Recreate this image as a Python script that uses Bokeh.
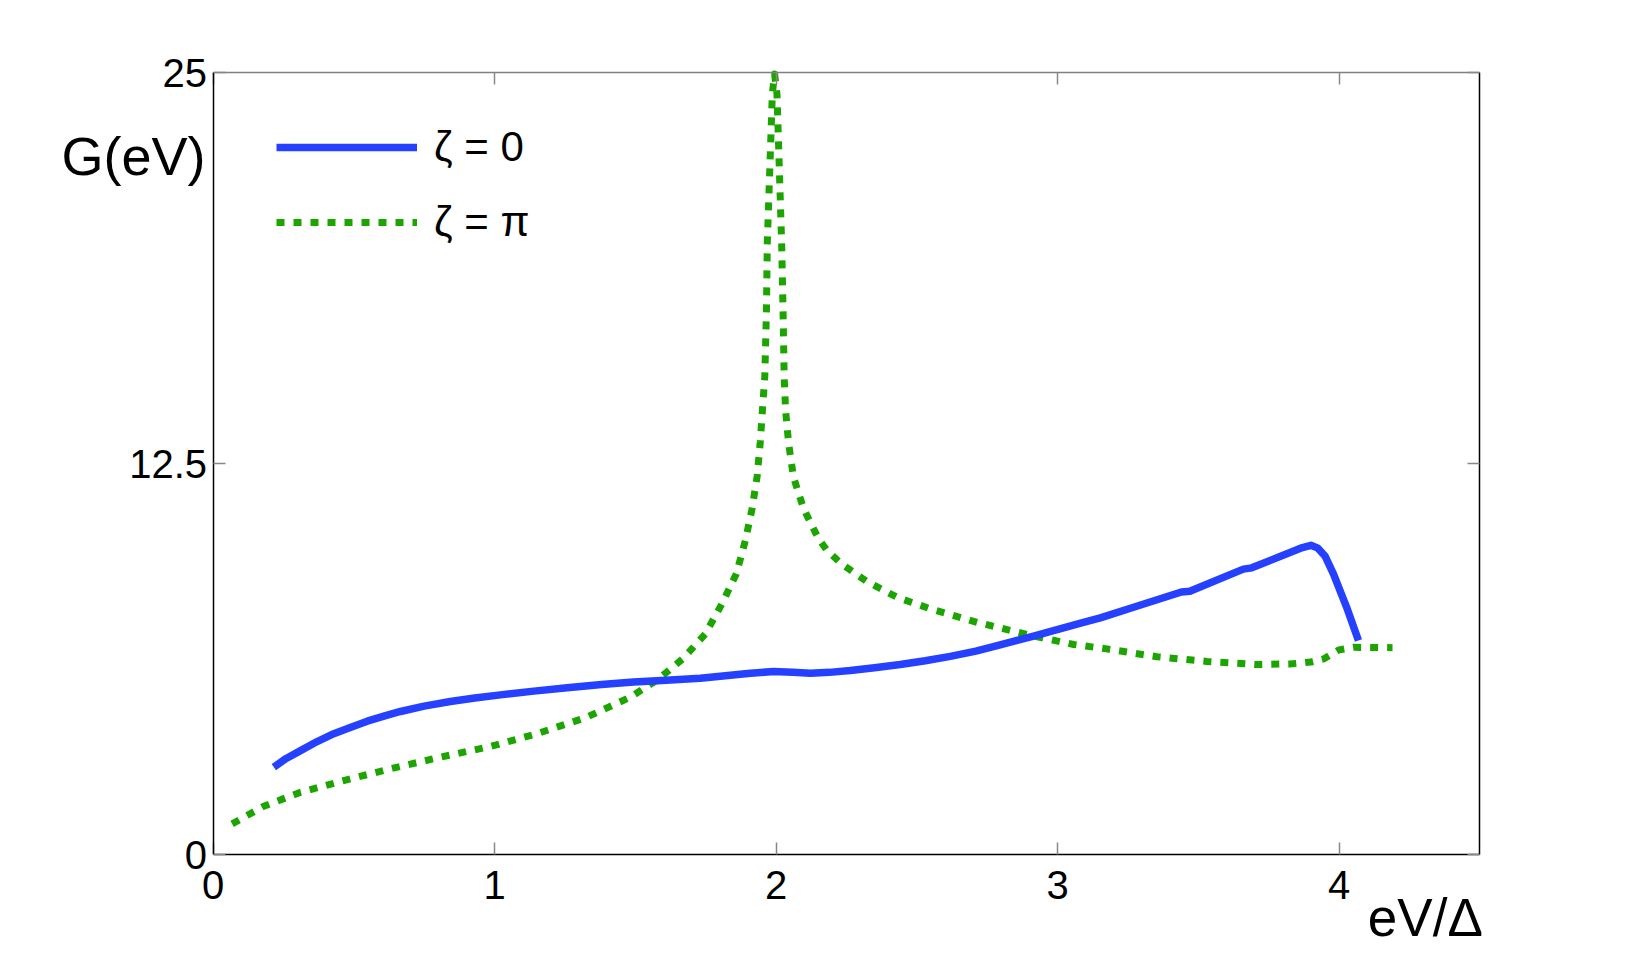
from bokeh.plotting import figure
from bokeh.models import Range1d, LinearAxis, FixedTicker, Legend, LegendItem, Label, ColumnDataSource
from bokeh.embed import file_html
from bokeh.resources import INLINE

# ---- data ----
x_ticks = [0, 1, 2, 3, 4]
y_ticks = [0, 12.5, 25]
y_tick_labels = {0: "0", 12.5: "12.5", 25: "25"}
x_limits = (0, 4.5)
y_limits = (0, 25)

zeta0_x = [0.216, 0.26, 0.311, 0.37, 0.429, 0.49, 0.548, 0.61, 0.666, 0.75, 0.843, 0.93,
           1.021, 1.14, 1.258, 1.38, 1.494, 1.61, 1.731, 1.82,
           1.909, 1.991, 2.06, 2.122, 2.19, 2.264, 2.35, 2.441, 2.53, 2.619, 2.71, 2.796, 2.915,
           3.092, 3.152, 3.27, 3.44, 3.47, 3.66, 3.69, 3.87, 3.90, 3.925, 3.95, 3.98, 4.027, 4.069]
zeta0_y = [2.80, 3.08, 3.33, 3.62, 3.87, 4.08, 4.27, 4.44, 4.58, 4.75, 4.90, 5.01,
           5.11, 5.23, 5.34, 5.44, 5.52, 5.58, 5.64, 5.72,
           5.80, 5.86, 5.83, 5.80, 5.83, 5.89, 5.98, 6.08, 6.20, 6.34, 6.51, 6.71, 6.99,
           7.43, 7.57, 7.91, 8.40, 8.42, 9.13, 9.17, 9.82, 9.89, 9.80, 9.55, 8.98, 7.91, 6.85]

zetapi_x = [0.068, 0.18, 0.311, 0.464, 0.63, 0.808, 0.985, 1.151, 1.323, 1.483,
            1.58, 1.672, 1.749, 1.808, 1.859, 1.891, 1.915, 1.933, 1.944, 1.952,
            1.96, 1.963, 1.966, 1.969, 1.987, 1.995, 2.0035, 2.020, 2.025, 2.027,
            2.029, 2.034, 2.045, 2.062, 2.098, 2.151, 2.181, 2.228, 2.323, 2.43,
            2.548, 2.714, 2.892, 3.057, 3.175, 3.353, 3.53, 3.708, 3.826, 3.90,
            3.945, 3.975, 4.00, 4.051, 4.19]
zetapi_y = [0.99, 1.55, 2.0, 2.37, 2.75, 3.12, 3.46, 3.87, 4.38, 5.04,
            5.60, 6.29, 7.06, 8.02, 8.98, 10.04, 11.06, 12.10, 13.19, 14.25,
            15.26, 16.33, 17.40, 19.55, 24.34, 24.95, 24.30, 19.53, 17.40, 16.33,
            15.26, 14.20, 13.13, 12.07, 11.06, 10.10, 9.73, 9.33, 8.73, 8.23,
            7.86, 7.43, 7.04, 6.72, 6.58, 6.33, 6.18, 6.08, 6.10, 6.16,
            6.26, 6.42, 6.55, 6.63, 6.62]

FONT = "Liberation Sans"
BLUE = "#2540ff"
GREEN = "#1ca500"

# Canvas geometry: the axes box sits at px 212.5..1479.3 (x) and 72..854.3 (y)
W, H = 1618, 956
BOX_L, BOX_R, BOX_T, BOX_B = 212.5, 1479.3, 72.0, 854.3
ax_ = (BOX_R - BOX_L) / (x_limits[1] - x_limits[0])
ay_ = (BOX_B - BOX_T) / (y_limits[1] - y_limits[0])
xr = Range1d(x_limits[0] - BOX_L / ax_, x_limits[0] + (W - BOX_L) / ax_)
yr_ = Range1d(y_limits[0] - (H - BOX_B) / ay_, y_limits[1] + BOX_T / ay_)

p = figure(width=W, height=H, output_backend="svg", toolbar_location=None,
           x_range=xr, y_range=yr_,
           min_border_left=0, min_border_right=0, min_border_top=0, min_border_bottom=0,
           x_axis_location=None, y_axis_location=None)
p.xgrid.visible = False
p.ygrid.visible = False
p.outline_line_color = None
p.background_fill_color = "white"
p.border_fill_color = "white"


def style_axis(ax, show_labels, line_color):
    ax.major_tick_in = 12
    ax.major_tick_out = 0
    ax.minor_tick_in = 0
    ax.minor_tick_out = 0
    ax.major_tick_line_color = "#888888"
    ax.major_tick_line_width = 1.5
    ax.axis_line_color = line_color
    ax.axis_line_width = 1.5
    if show_labels:
        ax.major_label_text_font = FONT
        ax.major_label_text_font_size = "40px"
        ax.major_label_text_color = "black"
    else:
        ax.major_label_text_font_size = "0px"
        ax.major_label_text_color = None
        ax.major_label_standoff = 0


xb = LinearAxis(ticker=FixedTicker(ticks=x_ticks), fixed_location=y_limits[0], bounds=x_limits)
style_axis(xb, True, "black")
xb.major_label_standoff = 16
p.add_layout(xb, "below")

xt = LinearAxis(ticker=FixedTicker(ticks=x_ticks), fixed_location=y_limits[1], bounds=x_limits)
style_axis(xt, False, "#808080")
p.add_layout(xt, "above")

yl = LinearAxis(ticker=FixedTicker(ticks=y_ticks), fixed_location=x_limits[0], bounds=y_limits)
style_axis(yl, True, "black")
yl.major_label_standoff = 6
yl.major_label_overrides = {k: v for k, v in y_tick_labels.items()}
p.add_layout(yl, "left")

yr = LinearAxis(ticker=FixedTicker(ticks=y_ticks), fixed_location=x_limits[1], bounds=y_limits)
style_axis(yr, False, "black")
p.add_layout(yr, "right")

src0 = ColumnDataSource(dict(x=zeta0_x, y=zeta0_y))
srcpi = ColumnDataSource(dict(x=zetapi_x, y=zetapi_y))

r_pi = p.line("x", "y", source=srcpi, line_color=GREEN, line_width=7,
              line_dash="8 9", line_cap="butt", line_join="round")
r_0 = p.line("x", "y", source=src0, line_color=BLUE, line_width=7.5,
             line_cap="butt", line_join="round")

legend = Legend(items=[LegendItem(label="ζ = 0", renderers=[r_0]),
                       LegendItem(label="ζ = π", renderers=[r_pi])],
                location=(276, 693 + (H - 945)), orientation="vertical",
                glyph_width=141, glyph_height=60, spacing=15, padding=0, margin=0,
                label_standoff=17, label_text_font=FONT, label_text_font_size="42px",
                label_text_color="black", border_line_color=None,
                background_fill_alpha=0)
p.add_layout(legend, "center")

p.add_layout(Label(x=x_limits[0] - 7.5 / ax_, y=y_limits[1] - (155.0 - BOX_T) / ay_,
                   text="G(eV)", text_font=FONT, text_font_size="54px", text_align="right",
                   text_baseline="middle", text_color="black"))
p.add_layout(Label(x=x_limits[1] + 3.0 / ax_, y=y_limits[0] - (917.0 - BOX_B) / ay_,
                   text="eV/Δ", text_font=FONT, text_font_size="53px", text_align="right",
                   text_baseline="middle", text_color="black"))

open("out.html", "w").write(file_html(p, INLINE))
